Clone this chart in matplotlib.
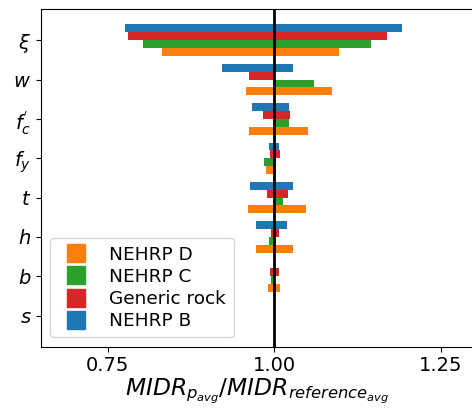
import matplotlib
matplotlib.use("Agg")
import matplotlib.pyplot as plt
from matplotlib.lines import Line2D
import numpy as np

# parameters, top to bottom
params = [r"$\xi$", r"$w$", r"$f^{'}_c$", r"$f_y$", r"$t$", r"$h$", r"$b$", r"$s$"]

# low / high ratio for each site class (same order as params)
d_low = [0.832, 0.958, 0.9625, 0.988, 0.961, 0.973, 0.991, 1.0]
d_high = [1.0975, 1.087, 1.051, 1.003, 1.048, 1.0285, 1.009, 1.0]
c_low = [0.8035, 1.0, 1.0, 0.985, 1.0, 0.9925, 0.9955, 1.0]
c_high = [1.1455, 1.06, 1.0225, 1.003, 1.0135, 1.003, 1.0, 1.0]
rock_low = [0.781, 0.9625, 0.9835, 0.994, 0.9895, 0.9955, 0.994, 1.0]
rock_high = [1.1695, 1.0, 1.024, 1.009, 1.021, 1.0065, 1.0065, 1.0]
b_low = [0.7765, 0.922, 0.967, 0.9925, 0.964, 0.973, 1.0, 1.0]
b_high = [1.192, 1.0285, 1.0225, 1.0075, 1.0285, 1.0195, 1.0, 1.0]

series = [
    ("NEHRP D", d_low, d_high, "#ff7f0e"),
    ("NEHRP C", c_low, c_high, "#2ca02c"),
    ("Generic rock", rock_low, rock_high, "#d62728"),
    ("NEHRP B", b_low, b_high, "#1f77b4"),
]

fig = plt.figure(figsize=(4.72, 4.16), dpi=100)
ax = fig.add_axes([0.0869, 0.1666, 0.918, 0.8114])

y = np.arange(len(params))[::-1]
h = 0.2
offsets = [-0.3, -0.1, 0.1, 0.3]

handles = []
for (name, lo, hi, col), off in zip(series, offsets):
    lo = np.array(lo)
    hi = np.array(hi)
    ax.barh(y + off, lo - 1, left=1, height=h, color=col)
    ax.barh(y + off, hi - 1, left=1, height=h, color=col)
    handles.append(Line2D([], [], marker="s", linestyle="none", color=col,
                          markersize=12.5, label=name))

ax.axvline(1, color="black", lw=2)

ax.set_yticks(y)
ax.set_yticklabels(params, fontsize=14)
ax.set_xticks([0.75, 1.0, 1.25])
ax.set_xticklabels(["0.75", "1.00", "1.25"], fontsize=14)
ax.set_xlim(0.65, 1.30)
ax.set_xlabel(r"$MIDR_{p_{avg}}/MIDR_{reference_{avg}}$", fontsize=16.8, labelpad=1)

ax.legend(handles=handles, loc="lower left", fontsize=13.3, labelspacing=0.22)

fig.savefig("out.png", dpi=100)
